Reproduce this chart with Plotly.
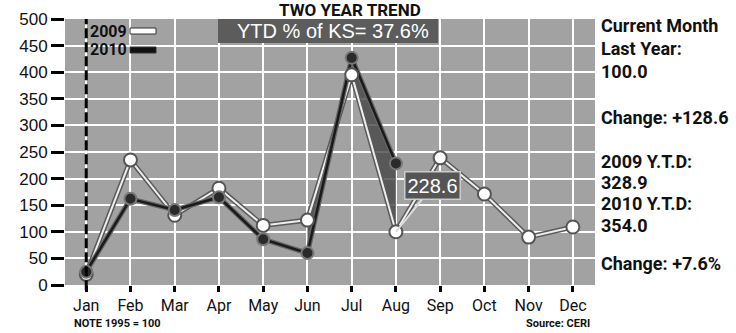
import plotly.graph_objects as go

months = ["Jan", "Feb", "Mar", "Apr", "May", "Jun", "Jul", "Aug", "Sep", "Oct", "Nov", "Dec"]
v2009 = [20, 235, 131, 182, 112, 122, 395, 100.0, 239, 171, 90, 109]
v2010 = [25, 162, 141, 165, 86, 60, 427, 228.6]
y_ticks = [0, 50, 100, 150, 200, 250, 300, 350, 400, 450, 500]
side_lines = ["Current Month", "Last Year:", "100.0", "Change: +128.6",
              "2009 Y.T.D:", "328.9", "2010 Y.T.D:", "354.0", "Change: +7.6%"]
title_text = "TWO YEAR TREND"
ytd_text = "YTD % of KS= 37.6%"
note_text = "NOTE 1995 = 100"
source_text = "Source: CERI"

W, H = 736, 333
ML, MT = 65, 19
PW, PH = 530, 266
MR, MB = W - ML - PW, H - MT - PH

def px(x, y):
    return (x - ML) / PW, 1 - (y - MT) / PH

NARROW = "Roboto, Liberation Sans, Arial, sans-serif"
REG = "Liberation Sans, Arial, sans-serif"

x09 = list(range(len(v2009)))
x10 = list(range(len(v2010)))

fig = go.Figure()

# dark shaded area between the two lines (Jun - Aug)
fx = [5, 6, 7, 7, 6, 5]
fy = [v2010[5], v2010[6], v2010[7], v2009[7], v2009[6], v2009[5]]
fig.add_trace(go.Scatter(x=fx, y=fy, fill="toself", mode="lines",
                         fillcolor="rgba(70,70,70,0.8)", line=dict(width=0),
                         hoverinfo="skip", showlegend=False))

# 2009 line: dark outline then white
fig.add_trace(go.Scatter(x=x09, y=v2009, mode="lines",
                         line=dict(color="#5a5a5a", width=5),
                         hoverinfo="skip", showlegend=False))
fig.add_trace(go.Scatter(x=x09, y=v2009, mode="lines",
                         line=dict(color="#eeeeee", width=2),
                         hoverinfo="skip", showlegend=False))
# 2010 line
fig.add_trace(go.Scatter(x=x10, y=v2010, mode="lines",
                         line=dict(color="#666666", width=5),
                         hoverinfo="skip", showlegend=False))
fig.add_trace(go.Scatter(x=x10, y=v2010, mode="lines",
                         line=dict(color="#1a1a1a", width=2.5),
                         hoverinfo="skip", showlegend=False))
# markers
fig.add_trace(go.Scatter(x=x09, y=v2009, mode="markers", name="2009",
                         marker=dict(size=13, color="white",
                                     line=dict(color="#555555", width=2)),
                         showlegend=False))
fig.add_trace(go.Scatter(x=x10, y=v2010, mode="markers", name="2010",
                         marker=dict(size=12, color="#2a2a2a",
                                     line=dict(color="#777777", width=2)),
                         showlegend=False))

shapes = []
# Jan dashed black line
shapes.append(dict(type="line", xref="x", yref="paper", x0=0, x1=0, y0=-0.02, y1=1,
                   line=dict(color="black", width=3, dash="10px,4px")))
# YTD box
bx0, by0 = px(218, 19)
bx1, by1 = px(438, 43)
shapes.append(dict(type="rect", xref="paper", yref="paper", x0=bx0, x1=bx1, y0=by1, y1=by0,
                   fillcolor="#5c5c5c", line=dict(width=0), layer="above"))
# legend swatches
for (yy, col) in [(31, "white"), (50, "#111111")]:
    sx0, sy0 = px(130, yy - 3)
    sx1, sy1 = px(156, yy + 3)
    shapes.append(dict(type="rect", xref="paper", yref="paper", x0=sx0, x1=sx1, y0=sy1, y1=sy0,
                       fillcolor=col, line=dict(color="#333333", width=1), layer="above"))

annotations = []
tx, ty = px(350, 10)
annotations.append(dict(xref="paper", yref="paper", x=tx, y=ty, text="<b>" + title_text + "</b>",
                        showarrow=False, font=dict(family=NARROW, size=17, color="#111111"),
                        xanchor="center", yanchor="middle"))
yx, yy_ = px(333, 31)
annotations.append(dict(xref="paper", yref="paper", x=yx, y=yy_, text=ytd_text,
                        showarrow=False, font=dict(family=REG, size=20, color="white"),
                        xanchor="center", yanchor="middle"))
for lbl, yy in [("2009", 31), ("2010", 50)]:
    lx, ly = px(129, yy)
    annotations.append(dict(xref="paper", yref="paper", x=lx, y=ly, text="<b>" + lbl + "</b>",
                            showarrow=False, font=dict(family=NARROW, size=16, color="#111111"),
                            xanchor="right", yanchor="middle"))
side_y = [26, 49, 71, 117, 161, 182, 203, 225, 263]
for txt, yy in zip(side_lines, side_y):
    sx, sy = px(599, yy)
    annotations.append(dict(xref="paper", yref="paper", x=sx, y=sy, text="<b>" + txt + "</b>",
                            showarrow=False, font=dict(family=NARROW, size=18, color="#111111"),
                            xanchor="left", yanchor="middle"))
nx, ny = px(72, 323)
annotations.append(dict(xref="paper", yref="paper", x=nx, y=ny, text="<b>" + note_text + "</b>",
                        showarrow=False, font=dict(family=NARROW, size=11, color="#111111"),
                        xanchor="left", yanchor="middle"))
sx, sy = px(592, 323)
annotations.append(dict(xref="paper", yref="paper", x=sx, y=sy, text="<b>" + source_text + "</b>",
                        showarrow=False, font=dict(family=NARROW, size=11, color="#111111"),
                        xanchor="right", yanchor="middle"))
# callout for current month 2010 value
annotations.append(dict(xref="x", yref="y", x=7, y=v2009[7], text=f"{v2010[7]:.1f}",
                        showarrow=True, arrowhead=0, arrowwidth=2, arrowcolor="#dddddd",
                        ax=37, ay=-46, font=dict(family=REG, size=20, color="white"),
                        bgcolor="#555555", bordercolor="#cccccc", borderwidth=1.5, borderpad=2))

fig.update_layout(
    width=W, height=H,
    margin=dict(l=ML, r=MR, t=MT, b=MB, autoexpand=False),
    paper_bgcolor="white", plot_bgcolor="#a2a2a2",
    shapes=shapes, annotations=annotations, showlegend=False,
    xaxis=dict(range=[-0.48, 11.5], tickvals=list(range(12)), ticktext=months,
               showgrid=True, gridcolor="white", gridwidth=2, zeroline=False,
               ticks="outside", ticklen=6, tickwidth=3, tickcolor="black", automargin=False,
               tickfont=dict(family=NARROW, size=16, color="#111111"), fixedrange=True),
    yaxis=dict(range=[0, 500], tickvals=y_ticks,
               showgrid=True, gridcolor="white", gridwidth=2, zeroline=False,
               ticks="outside", ticklen=13, tickwidth=3, tickcolor="black", automargin=False,
               tickfont=dict(family=REG, size=17, color="#111111"), fixedrange=True),
)

fig.write_html("out.html", config={"displayModeBar": False},
               post_script="document.body.style.margin='0';document.body.style.overflow='hidden';")
